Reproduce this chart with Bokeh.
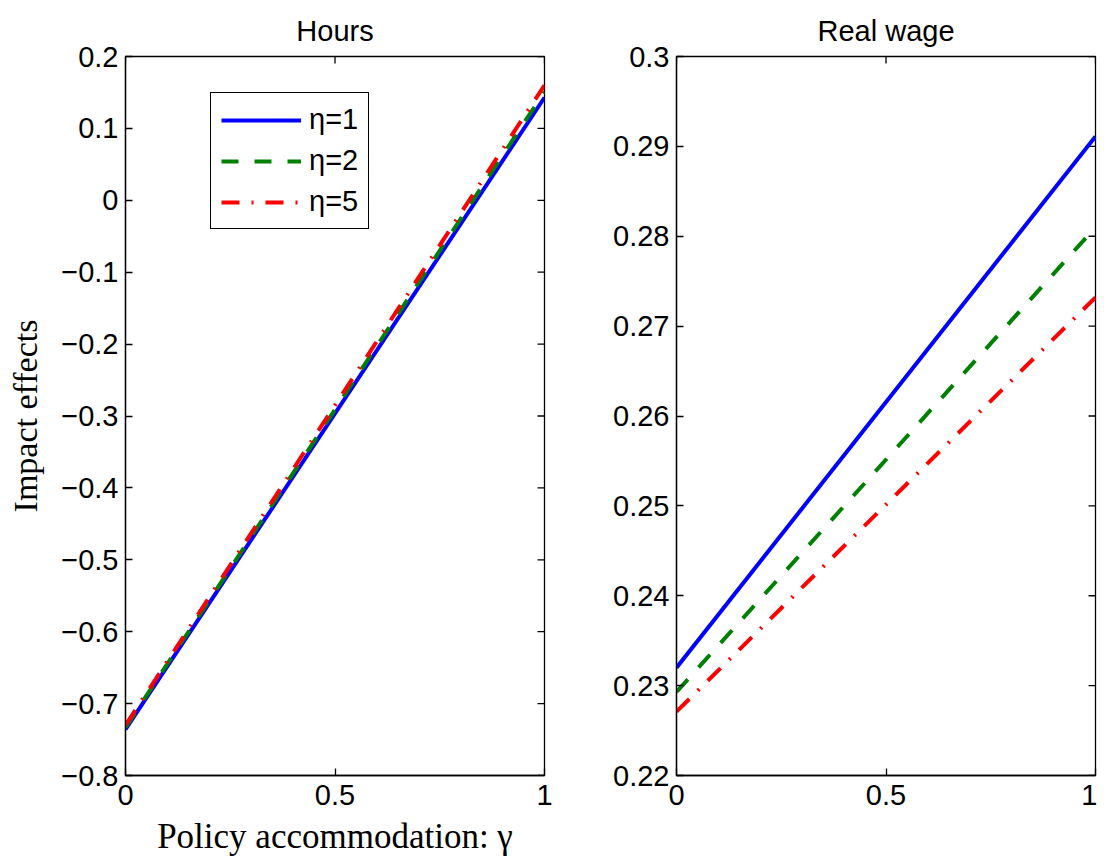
import numpy as np
from bokeh.plotting import figure
from bokeh.layouts import row
from bokeh.models import (FixedTicker, CustomJSTickFormatter, Legend,
                          LegendItem, Range1d)
from bokeh.embed import file_html
from bokeh.resources import INLINE

# ---- data ----
gamma = [0.0, 1.0]
hours_eta1 = [-0.736, 0.143]
hours_eta2 = [-0.733, 0.151]
hours_eta5 = [-0.730, 0.160]
wage_eta1 = [0.2320, 0.2911]
wage_eta2 = [0.2293, 0.2810]
wage_eta5 = [0.2271, 0.2732]
labels = ["η=1", "η=2", "η=5"]

hours_ticks = [-0.8, -0.7, -0.6, -0.5, -0.4, -0.3, -0.2, -0.1, 0.0, 0.1, 0.2]
wage_ticks = [0.22, 0.23, 0.24, 0.25, 0.26, 0.27, 0.28, 0.29, 0.30]
x_ticks = [0, 0.5, 1]

SANS = "Liberation Sans"
SERIF = "Liberation Serif"
FS = "29px"
TICK = 7

fmt_code = """
const s = parseFloat(tick.toFixed(4)).toString();
return s.replace('-', '\u2212');
"""

def style_axis(ax, ticks, standoff):
    ax.ticker = FixedTicker(ticks=ticks)
    ax.formatter = CustomJSTickFormatter(code=fmt_code)
    ax.major_tick_in = TICK
    ax.major_tick_out = 0
    ax.minor_tick_in = 0
    ax.minor_tick_out = 0
    ax.axis_line_color = "black"
    ax.axis_line_width = 1.3
    ax.major_tick_line_color = "black"
    ax.major_tick_line_width = 1.3
    ax.major_label_text_font = SANS
    ax.major_label_text_color = "black"
    ax.major_label_text_font_size = FS
    ax.major_label_standoff = standoff


def make_fig(title, ylo, yhi, yticks, bl, br):
    p = figure(frame_width=419, frame_height=719,
               x_range=Range1d(0, 1), y_range=Range1d(ylo, yhi),
               output_backend="svg", toolbar_location=None,
               min_border_left=bl, min_border_right=br,
               min_border_top=56, min_border_bottom=80,
               background_fill_color="white", border_fill_color="white")
    p.grid.visible = False
    p.outline_line_color = "black"
    p.outline_line_width = 1.3
    p.title.text = title
    p.title.text_font = SANS
    p.title.text_font_size = FS
    p.title.text_font_style = "normal"
    p.title.text_color = "black"
    p.title.align = "center"
    p.title.offset = 0
    p.title.standoff = 19
    style_axis(p.xaxis[0], x_ticks, 9)
    style_axis(p.yaxis[0], yticks, 7)
    # mirrored inward ticks on the top and right edges
    p.ray(x=x_ticks, y=[yhi] * len(x_ticks), length=TICK, angle=-np.pi / 2,
          length_units="screen", line_color="black", line_width=1.3)
    p.ray(x=[1.0] * len(yticks), y=yticks, length=TICK, angle=np.pi,
          length_units="screen", line_color="black", line_width=1.3)
    return p

p1 = make_fig("Hours", -0.8, 0.2, hours_ticks, 125, 40)
r1 = p1.line(gamma, hours_eta1, line_color="#0000ff", line_width=4)
r2 = p1.line(gamma, hours_eta2, line_color="#008000", line_width=4, line_dash="17 16")
r3 = p1.line(gamma, hours_eta5, line_color="#ff0000", line_width=4, line_dash="18 12 2 12")

yax = p1.yaxis[0]
yax.axis_label = "Impact effects"
yax.axis_label_text_font = SERIF
yax.axis_label_text_font_size = "34px"
yax.axis_label_text_font_style = "normal"
yax.axis_label_text_color = "black"
yax.axis_label_standoff = 14
xax = p1.xaxis[0]
xax.axis_label = "Policy accommodation: γ"
xax.axis_label_text_font = SERIF
xax.axis_label_text_font_size = "35px"
xax.axis_label_text_font_style = "normal"
xax.axis_label_text_color = "black"
xax.axis_label_standoff = 9

legend = Legend(items=[LegendItem(label=labels[0], renderers=[r1]),
                       LegendItem(label=labels[1], renderers=[r2]),
                       LegendItem(label=labels[2], renderers=[r3])],
                location=(85, 546),
                glyph_width=80, glyph_height=30, label_height=30,
                spacing=8, padding=10, margin=0, label_standoff=8,
                label_text_font=SANS, label_text_font_size=FS,
                label_text_color="black",
                border_line_color="black", border_line_width=1.5,
                border_line_alpha=1.0,
                background_fill_color="white", background_fill_alpha=1.0)
p1.add_layout(legend, "center")

p2 = make_fig("Real wage", 0.22, 0.30, wage_ticks, 92, 2)
p2.line(gamma, wage_eta1, line_color="#0000ff", line_width=4)
p2.line(gamma, wage_eta2, line_color="#008000", line_width=4, line_dash="17 16")
p2.line(gamma, wage_eta5, line_color="#ff0000", line_width=4, line_dash="18 12 2 12")

layout = row(p1, p2)
open("out.html", "w").write(file_html(layout, INLINE))
